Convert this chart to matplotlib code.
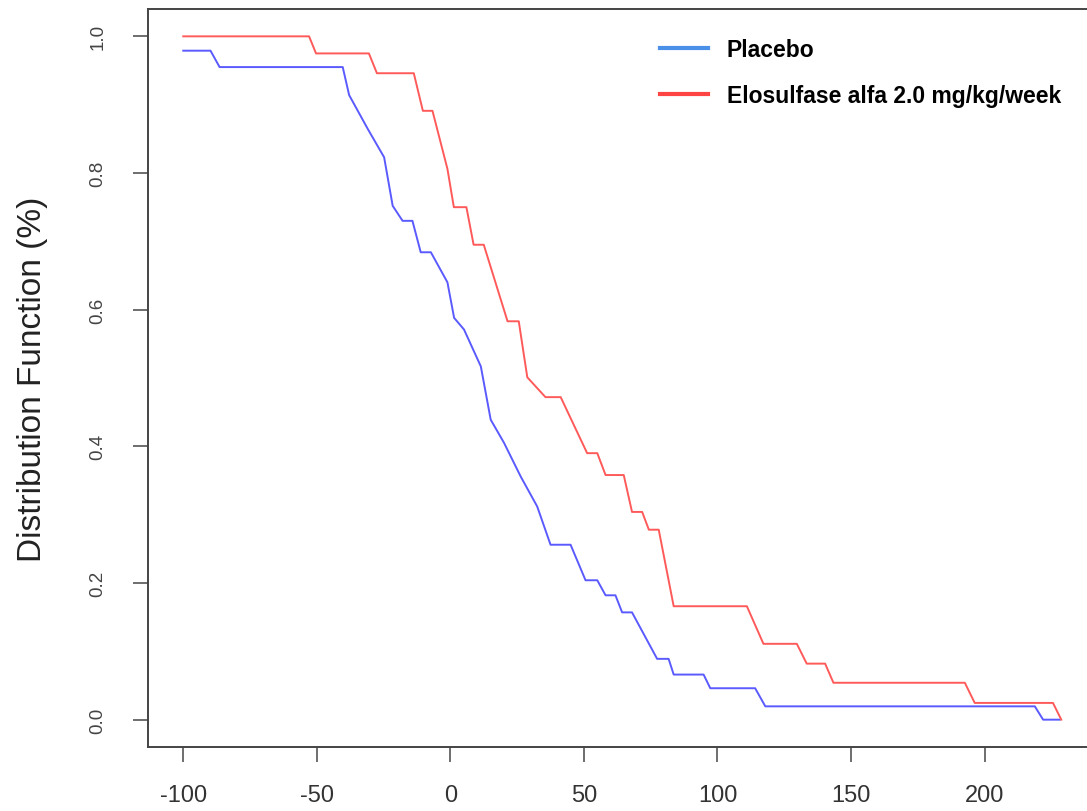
import matplotlib
matplotlib.use("Agg")
import matplotlib.pyplot as plt

plt.rcParams['font.family'] = ['Liberation Sans', 'DejaVu Sans']

# traced points of the two distribution curves (x = change, y = fraction)
placebo_x = [-100, -89.8, -86.4, -40.3, -37.9, -31.0, -24.8, -21.6, -17.9, -14.2, -11.1,
             -7.3, -1.1, 1.4, 5.1, 11.4, 15.1, 20.1, 26.3, 32.5, 37.5, 45.0, 50.6, 55.0,
             58.1, 61.8, 64.3, 68.0, 77.4, 81.7, 83.6, 94.8, 97.3, 114.1, 117.9, 218.8,
             221.9, 228.1]
placebo_y = [0.979, 0.979, 0.955, 0.955, 0.914, 0.865, 0.823, 0.752, 0.730, 0.730, 0.684,
             0.684, 0.640, 0.588, 0.571, 0.517, 0.439, 0.405, 0.356, 0.312, 0.256, 0.256,
             0.204, 0.204, 0.182, 0.182, 0.157, 0.157, 0.089, 0.089, 0.066, 0.066, 0.046,
             0.046, 0.0195, 0.0195, 0.0, 0.0]

elo_x = [-100, -52.9, -50.3, -30.5, -27.5, -13.7, -10.3, -6.7, -1.1, 1.3, 6.0, 8.7, 12.5,
         21.4, 25.6, 28.8, 35.6, 41.3, 51.2, 55.0, 58.1, 64.9, 68.0, 71.8, 74.3, 78.0,
         83.6, 111.0, 117.2, 129.7, 133.4, 140.3, 143.4, 192.6, 196.3, 225.6, 228.7]
elo_y = [1.0, 1.0, 0.975, 0.975, 0.946, 0.946, 0.891, 0.891, 0.806, 0.750, 0.750, 0.695,
         0.695, 0.583, 0.583, 0.501, 0.472, 0.472, 0.390, 0.390, 0.358, 0.358, 0.304,
         0.304, 0.278, 0.278, 0.166, 0.166, 0.111, 0.111, 0.082, 0.082, 0.054, 0.054,
         0.0245, 0.0245, 0.0]

labels = ['Placebo', 'Elosulfase alfa 2.0 mg/kg/week']
xticks = [-100, -50, 0, 50, 100, 150, 200]
yticks = [0.0, 0.2, 0.4, 0.6, 0.8, 1.0]

fig = plt.figure(figsize=(10.87, 8.12), dpi=100)
ax = fig.add_axes([148 / 1087, 64 / 812, 952 / 1087, 738 / 812])

ax.plot(placebo_x, placebo_y, color='#5a5aff', lw=1.4, label=labels[0])
ax.plot(elo_x, elo_y, color='#ff5a5a', lw=1.4, label=labels[1])

ax.set_xlim(-113.2, 243.2)
ax.set_ylim(-0.04, 1.04)
ax.set_xticks(xticks)
ax.set_xticklabels([str(t) for t in xticks], fontsize=17, color='#333333')
ax.set_yticks(yticks)
ax.set_yticklabels([f'{t:.1f}' for t in yticks], fontsize=13.5, color='#444444',
                   rotation=90, va='center')
ax.tick_params(axis='both', direction='out', length=11, width=1.2, color='#555555')
ax.tick_params(axis='x', pad=16)
ax.tick_params(axis='y', pad=19)
for side in ['left', 'bottom', 'top']:
    ax.spines[side].set_color('#444444')
    ax.spines[side].set_linewidth(1.4)
ax.spines['right'].set_visible(False)

ax.set_ylabel('Distribution Function (%)', fontsize=24, color='#222222', labelpad=30)

leg = ax.legend(loc='upper left', bbox_to_anchor=(660 / 1087, 1 - 39 / 812),
                bbox_transform=fig.transFigure, frameon=False, borderpad=0,
                borderaxespad=0, handlelength=2.1, handletextpad=0.82,
                labelspacing=1.0, prop={'weight': 'bold', 'size': 16.5})
for line, c in zip(leg.get_lines(), ['#4a8fe8', '#ff4444']):
    line.set_color(c)
    line.set_linewidth(3)

fig.savefig('out.png', dpi=100)
